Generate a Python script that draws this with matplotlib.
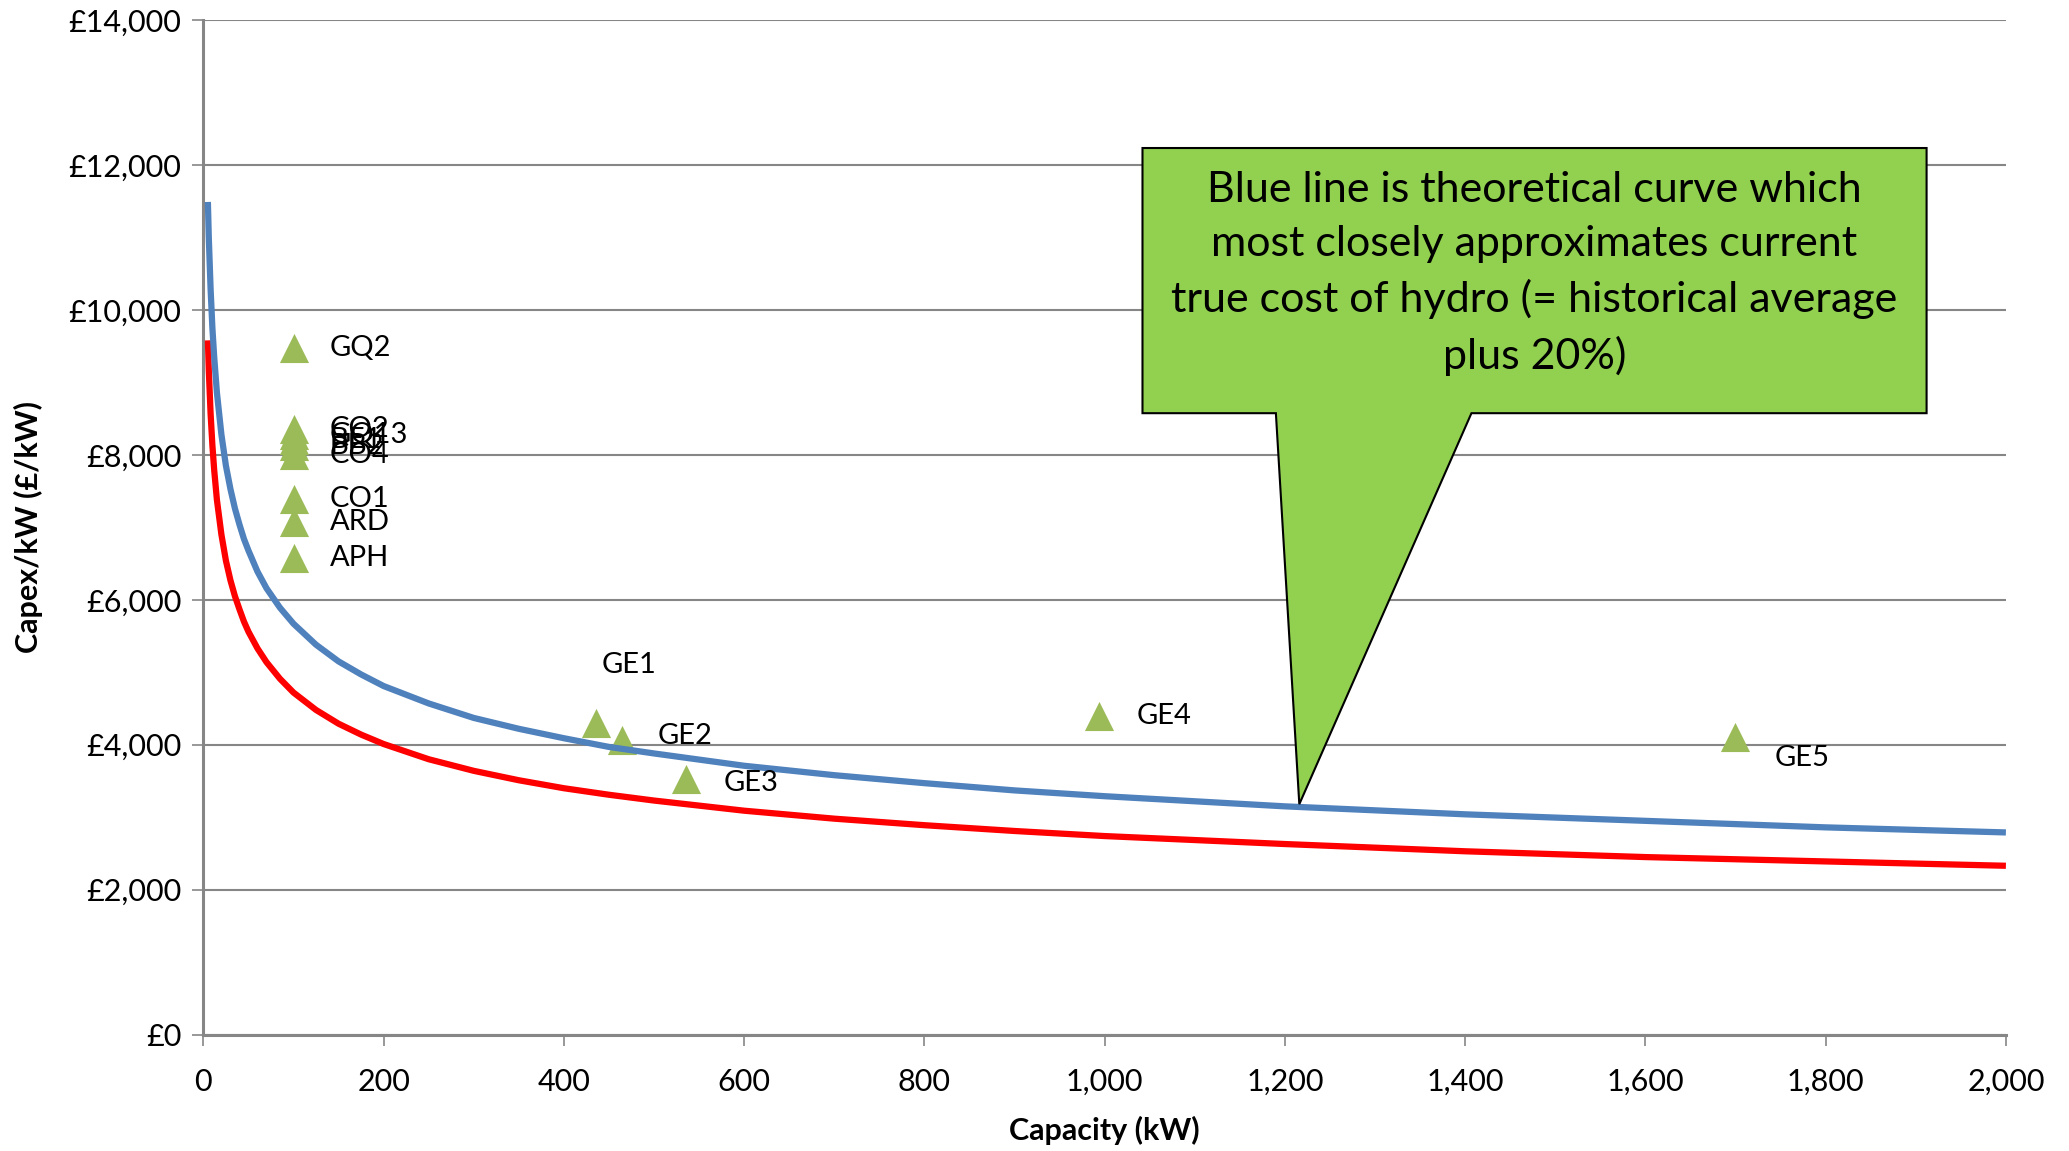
import matplotlib
matplotlib.use('Agg')
import matplotlib.pyplot as plt
from matplotlib.patches import Polygon
from matplotlib.ticker import FuncFormatter, MultipleLocator

plt.rcParams['font.family'] = ['Lato', 'DejaVu Sans']

# scheme points (capacity kW, capex £/kW)
names = ['GQ2', 'CO2', 'GQ13', 'BE1', 'BB2', 'CO4', 'CO1', 'ARD', 'APH',
         'GE1', 'GE2', 'GE3', 'GE4', 'GE5']
cap = [100, 100, 100, 100, 100, 100, 100, 100, 100,
       436, 465, 536, 994, 1699]
capex = [9480, 8350, 8280, 8200, 8120, 8000, 7390, 7080, 6570,
         4300, 4060, 3530, 4390, 4100]
# label offsets in points
offs = [(26, 0)] * 9 + [(4, 42), (25, 3), (27, -3), (27, 0), (29, -15)]

# curves
curve_x = [5, 6, 8, 10, 12, 15, 20, 25, 30, 35, 40, 45, 50, 60, 70, 85, 100,
           125, 150, 175, 200, 250, 300, 350, 400, 450, 500, 600, 700, 800,
           900, 1000, 1200, 1400, 1600, 1800, 2000]
blue_y = [11490, 11000, 10290, 9750, 9350, 8860, 8280, 7850, 7530, 7260, 7040,
          6840, 6680, 6390, 6160, 5890, 5670, 5380, 5150, 4970, 4810, 4570,
          4370, 4220, 4090, 3970, 3880, 3710, 3580, 3470, 3370, 3290, 3150,
          3040, 2950, 2860, 2790]
red_y = [9580, 9170, 8570, 8130, 7790, 7380, 6900, 6540, 6270, 6050, 5870,
         5700, 5560, 5330, 5140, 4910, 4720, 4480, 4290, 4140, 4010, 3800,
         3640, 3510, 3400, 3310, 3230, 3090, 2980, 2890, 2810, 2740, 2630,
         2530, 2450, 2390, 2330]

callout = ('Blue line is theoretical curve which\n'
           'most closely approximates current\n'
           'true cost of hydro (= historical average\n'
           'plus 20%)')

fig = plt.figure(figsize=(20.69, 11.51), dpi=100)
ax = fig.add_axes([0.0983, 0.1011, 0.8712, 0.8815])

ax.scatter(cap, capex, marker='^', s=440, color='#9BBB59', zorder=3, linewidths=0)
for n, x, y, o in zip(names, cap, capex, offs):
    ax.annotate(n, (x, y), xytext=o, textcoords='offset points',
                ha='left', va='center', fontsize=21, zorder=4)

ax.plot(curve_x, red_y, color='#FF0000', lw=4.5, zorder=3.5,
        solid_capstyle='butt', solid_joinstyle='round')
ax.plot(curve_x, blue_y, color='#4F81BD', lw=4.5, zorder=3.6,
        solid_capstyle='butt', solid_joinstyle='round')

# callout shape
poly = Polygon([(1042, 12234), (1912, 12234), (1912, 8575), (1407, 8575),
                (1216, 3180), (1190, 8575), (1042, 8575)],
               closed=True, facecolor='#92D050', edgecolor='black', lw=1.5, zorder=5)
ax.add_patch(poly)
ax.text(1477, 10500, callout, ha='center', va='center', fontsize=31,
        linespacing=1.5, zorder=6)

ax.set_xlim(0, 2000)
ax.set_ylim(0, 14000)
ax.xaxis.set_major_locator(MultipleLocator(200))
ax.yaxis.set_major_locator(MultipleLocator(2000))
ax.xaxis.set_major_formatter(FuncFormatter(lambda v, p: f'{v:,.0f}'))
ax.yaxis.set_major_formatter(FuncFormatter(lambda v, p: f'£{v:,.0f}'))
ax.grid(axis='y', color='#868686', lw=1.5)
ax.set_axisbelow(True)
for s in ['top', 'right']:
    ax.spines[s].set_visible(False)
for s in ['left', 'bottom']:
    ax.spines[s].set_color('#868686')
    ax.spines[s].set_linewidth(2.2)
ax.tick_params(axis='both', colors='#868686', labelcolor='black', labelsize=22,
               width=1.2, length=8, pad=8)
ax.tick_params(axis='x', pad=16)

ax.set_xlabel('Capacity (kW)', fontsize=22, fontweight='bold', labelpad=14)
ax.set_ylabel('Capex/kW (£/kW)', fontsize=22, fontweight='bold', labelpad=18)

fig.savefig('out.png', dpi=100)
